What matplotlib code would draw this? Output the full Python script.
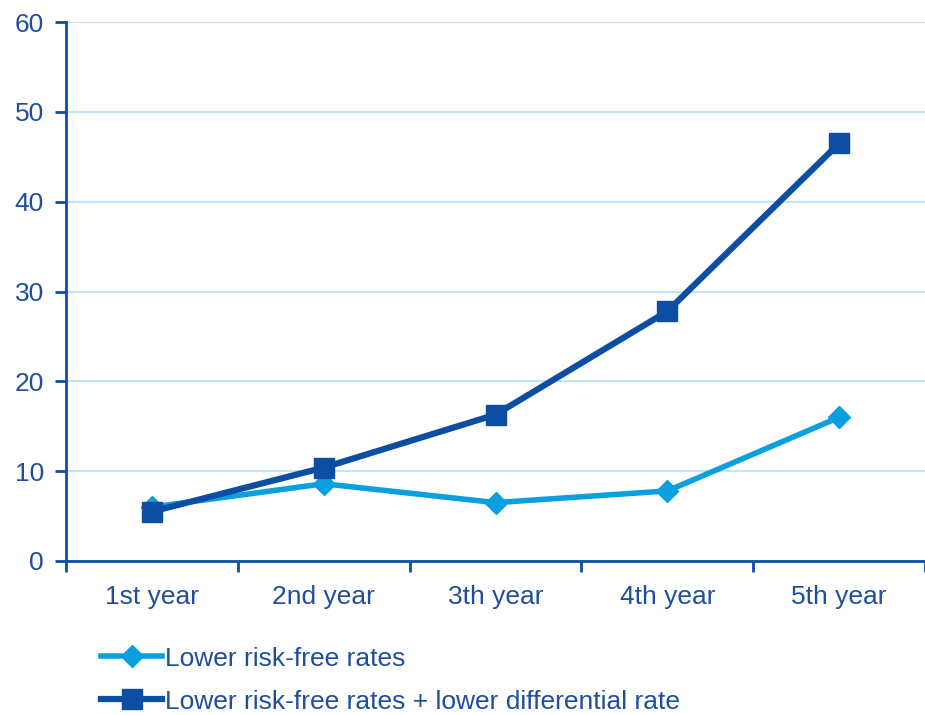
import numpy as np
import matplotlib
matplotlib.use('Agg')
import matplotlib.pyplot as plt
from matplotlib.lines import Line2D

plt.rcParams['font.family'] = ['Liberation Sans', 'DejaVu Sans']

# data
years = ['1st year', '2nd year', '3th year', '4th year', '5th year']
risk_free = [6.0, 8.6, 6.5, 7.8, 16.0]
risk_free_diff = [5.5, 10.4, 16.3, 27.8, 46.5]

dark = '#0B4EA2'
light = '#0AA0E0'
txt = '#1F4E9C'
grid = '#BFE6F6'

fig = plt.figure(figsize=(9.25, 7.15), dpi=100)
ax = fig.add_axes([0.0714, 0.2154, 0.9286, 0.7536])

x = np.arange(len(years))
ax.plot(x, risk_free, color=light, lw=4, marker='D', ms=11, mfc=light, mec=light, zorder=3)
ax.plot(x, risk_free_diff, color=dark, lw=4.5, marker='s', ms=15, mfc=dark, mec=dark, zorder=4)

ax.set_xlim(-0.5, 4.5)
ax.set_ylim(0, 60)
ax.set_yticks(np.arange(0, 61, 10))
ax.set_xticks(x)
ax.set_xticklabels(years)
ax.set_xticks(np.arange(-0.5, 4.6, 1), minor=True)
ax.tick_params(axis='x', which='major', length=0, pad=17, labelsize=19, labelcolor=txt)
ax.tick_params(axis='x', which='minor', length=8, width=2, color=dark, direction='out')
ax.tick_params(axis='y', length=8, width=2, color=dark, labelsize=19, labelcolor=txt, pad=8)

ax.yaxis.grid(True, color=grid, lw=1.5)
ax.set_axisbelow(True)
for s in ['top', 'right']:
    ax.spines[s].set_visible(False)
ax.spines['left'].set_color(dark)
ax.spines['bottom'].set_color(dark)
ax.spines['left'].set_linewidth(2)
ax.spines['bottom'].set_linewidth(2)

handles = [
    Line2D([0], [0], color=light, lw=4, marker='D', ms=11, mfc=light, mec=light),
    Line2D([0], [0], color=dark, lw=4.5, marker='s', ms=15, mfc=dark, mec=dark),
]
leg = fig.legend(handles, ['Lower risk-free rates', 'Lower risk-free rates + lower differential rate'],
                 loc='lower left', bbox_to_anchor=(0.108, 0.0), frameon=False, fontsize=19,
                 handlelength=2.3, handletextpad=0.1, labelspacing=0.72, borderpad=0.05,
                 borderaxespad=0)
for t in leg.get_texts():
    t.set_color(txt)

fig.savefig('out.png', dpi=100)
